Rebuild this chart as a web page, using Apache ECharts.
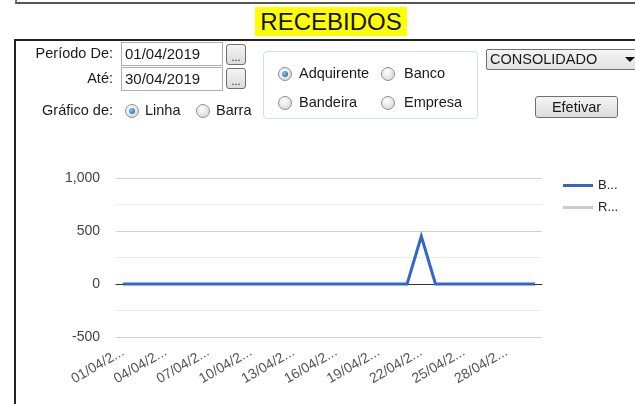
<!DOCTYPE html>
<html><head><meta charset="utf-8">
<script src="https://cdn.jsdelivr.net/npm/echarts@6/dist/echarts.min.js"></script>
<style>
html,body{margin:0;padding:0;width:635px;height:404px;overflow:hidden;background:#fff;font-family:"Liberation Sans",Arial,sans-serif;}
#chart{position:absolute;left:0;top:0;width:635px;height:404px;}
.a{position:absolute;box-sizing:border-box;}
.topbox{left:15px;top:-10px;width:640px;height:14px;border-left:2px solid #777;border-bottom:2px solid #555;}
.title{left:255px;top:7px;width:152px;height:29px;background:#ffff00;font-size:24px;line-height:30px;text-align:center;color:#111;}
.mainbox{left:14px;top:39px;width:640px;height:400px;border-left:2px solid #222;border-top:2px solid #222;}
.lbl{font-size:14.5px;line-height:17px;color:#1a1a1a;white-space:nowrap;}
.rlbl{left:0;width:113px;text-align:right;}
.tb{border:1px solid #abadb3;background:#fff;font-size:15px;line-height:22px;padding-left:3px;color:#1a1a1a;}
.btn{border:1px solid #707070;border-radius:3px;background:linear-gradient(#f4f4f4,#dcdcdc);text-align:center;color:#1a1a1a;}
.radio{width:14px;height:14px;border-radius:50%;border:1px solid #8e8f8f;background:radial-gradient(circle at 40% 35%,#ffffff,#cfcfcf);}
.radio.on::after{content:'';position:absolute;left:3px;top:3px;width:6px;height:6px;border-radius:50%;background:radial-gradient(circle at 35% 35%,#7cc8ff,#0b5aa6);}
.group{left:263px;top:51px;width:215px;height:68px;border:1px solid #d5dfe5;border-radius:4px;}
.combo{left:486px;top:49px;width:160px;height:21px;border:1px solid #707070;border-radius:2px;background:linear-gradient(#f4f4f4,#e2e2e2);font-size:14.5px;line-height:19px;padding-left:3px;color:#1a1a1a;}
.arrow{left:625px;top:57px;width:0;height:0;border-left:5px solid transparent;border-right:5px solid transparent;border-top:5px solid #111;}
</style></head>
<body>
<div id="chart"></div>
<div class="a topbox"></div>
<div class="a title">RECEBIDOS</div>
<div class="a mainbox"></div>

<div class="a lbl rlbl" style="top:45px;">Período De:</div>
<div class="a lbl rlbl" style="top:70px;">Até:</div>
<div class="a lbl rlbl" style="top:102px;">Gráfico de:</div>

<div class="a tb" style="left:121px;top:42px;width:102px;height:24px;">01/04/2019</div>
<div class="a tb" style="left:121px;top:67px;width:102px;height:24px;">30/04/2019</div>
<div class="a btn" style="left:226px;top:44px;width:20px;height:21px;font-size:11px;line-height:24px;">...</div>
<div class="a btn" style="left:226px;top:68px;width:20px;height:21px;font-size:11px;line-height:24px;">...</div>

<div class="a radio on" style="left:125px;top:104px;"></div>
<div class="a lbl" style="left:145px;top:102px;">Linha</div>
<div class="a radio" style="left:196px;top:104px;"></div>
<div class="a lbl" style="left:216px;top:102px;">Barra</div>

<div class="a group"></div>
<div class="a radio on" style="left:278px;top:67px;"></div>
<div class="a lbl" style="left:299px;top:65px;">Adquirente</div>
<div class="a radio" style="left:381px;top:67px;"></div>
<div class="a lbl" style="left:404px;top:65px;">Banco</div>
<div class="a radio" style="left:278px;top:96px;"></div>
<div class="a lbl" style="left:299px;top:94px;">Bandeira</div>
<div class="a radio" style="left:381px;top:96px;"></div>
<div class="a lbl" style="left:404px;top:94px;">Empresa</div>

<div class="a combo">CONSOLIDADO</div>
<div class="a arrow"></div>
<div class="a btn lbl" style="left:535px;top:96px;width:83px;height:22px;line-height:20px;">Efetivar</div>

<script>
const categories = ['01/04/2019','02/04/2019','03/04/2019','04/04/2019','05/04/2019','06/04/2019','07/04/2019','08/04/2019','09/04/2019','10/04/2019',
  '11/04/2019','12/04/2019','13/04/2019','14/04/2019','15/04/2019','16/04/2019','17/04/2019','18/04/2019','19/04/2019','20/04/2019',
  '21/04/2019','22/04/2019','23/04/2019','24/04/2019','25/04/2019','26/04/2019','27/04/2019','28/04/2019','29/04/2019','30/04/2019'];
const seriesNames = ['B...', 'R...'];
const seriesB = [0,0,0,0,0,0,0,0,0,0, 0,0,0,0,0,0,0,0,0,0, 0,450,0,0,0,0,0,0,0,0];
const seriesR = [];
const yTicks = [-500, 0, 500, 1000];

const chart = echarts.init(document.getElementById('chart'), null, {renderer: 'canvas'});
chart.setOption({
  animation: false,
  textStyle: {fontFamily: '"Liberation Sans", Arial, sans-serif'},
  grid: {left: 116, right: 93, top: 178, bottom: 67},
  legend: {
    orient: 'vertical', left: 558, top: 174, itemWidth: 30, itemHeight: 3, icon: 'rect', itemGap: 9,
    data: seriesNames, textStyle: {fontSize: 13, color: '#222'}
  },
  xAxis: [{
    type: 'category', data: categories, boundaryGap: true, position: 'bottom',
    axisLine: {show: false, onZero: false}, axisTick: {show: false}, splitLine: {show: false},
    axisLabel: {interval: 2, rotate: 30, fontSize: 14, color: '#555', margin: 14,
      formatter: v => v.slice(0, 7) + '...'}
  }, {
    type: 'category', data: categories, boundaryGap: true, position: 'bottom',
    axisLine: {show: true, onZero: true, lineStyle: {color: '#333', width: 1}},
    axisTick: {show: false}, axisLabel: {show: false}, splitLine: {show: false}
  }],
  yAxis: {
    type: 'value', min: yTicks[0], max: yTicks[yTicks.length - 1], interval: 500,
    axisLine: {show: false}, axisTick: {show: false},
    axisLabel: {fontSize: 14, color: '#444', margin: 16, formatter: v => v.toLocaleString('en-US')},
    splitLine: {lineStyle: {color: '#d2d2d2', width: 1}},
    minorTick: {show: false, splitNumber: 2},
    minorSplitLine: {show: true, lineStyle: {color: '#ececec', width: 1}}
  },
  series: [{
    name: seriesNames[0], type: 'line', data: seriesB, xAxisIndex: 0, z: 3,
    symbol: 'none', showSymbol: false, color: '#3366cc',
    lineStyle: {width: 3, color: '#3366cc', join: 'miter'}
  }, {
    name: seriesNames[1], type: 'line', data: seriesR, xAxisIndex: 0, z: 2,
    symbol: 'none', showSymbol: false, color: '#cccccc',
    lineStyle: {width: 3, color: '#cccccc'}
  }]
});
</script>
</body></html>
